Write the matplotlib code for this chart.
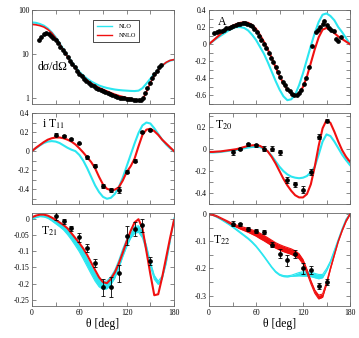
import numpy as np
import matplotlib
matplotlib.use("Agg")
from matplotlib import pyplot as plt
from matplotlib.ticker import MultipleLocator, FixedLocator, FuncFormatter, NullLocator

plt.rcParams["font.family"] = ["Liberation Serif", "DejaVu Serif"]
plt.rcParams["mathtext.fontset"] = "stix"

CYAN = "#2be6f0"
RED = "#f01010"

# angle grid for the theory curves (deg)
th = np.arange(0, 181, 5)

# ---- d sigma / d Omega ----
xs_nlo = [52, 51, 48, 44, 38, 31, 24, 17.5, 12.5, 9, 6.6, 5.0, 3.9, 3.2, 2.7, 2.35, 2.1, 1.9, 1.77,
          1.67, 1.6, 1.54, 1.5, 1.47, 1.45, 1.43, 1.42, 1.45, 1.65, 2.1, 2.7, 3.5, 4.4, 5.4, 6.3, 7.0, 7.3]
xs_nnlo = [47, 46, 44, 41, 36, 30, 23, 17, 12, 8.6, 6.2, 4.7, 3.7, 3.0, 2.5, 2.15, 1.9, 1.7, 1.55,
           1.42, 1.3, 1.2, 1.12, 1.06, 1.0, 0.95, 0.9, 0.86, 0.9, 1.35, 2.2, 3.2, 4.3, 5.4, 6.4, 7.1, 7.4]
xs_th = [9, 12, 15, 18, 21, 24, 27, 30, 33, 36, 39, 42, 45, 48, 51, 54, 57, 60, 63, 66, 69, 72, 75,
         78, 81, 84, 87, 90, 93, 96, 99, 102, 105, 108, 111, 114, 117, 120, 123, 126, 129, 132, 135,
         138, 141, 143, 146, 149, 152, 155, 158, 161, 164]
xs_dat = [21, 24, 28, 30, 28.5, 26, 23, 20.5, 17.5, 14.5, 12.3, 10.2, 8.5, 7.0, 5.8, 4.9, 4.1, 3.5,
          3.05, 2.7, 2.42, 2.2, 2.0, 1.85, 1.7, 1.57, 1.47, 1.4, 1.32, 1.26, 1.2, 1.14, 1.09, 1.04,
          1.01, 0.99, 0.97, 0.95, 0.93, 0.92, 0.9, 0.88, 0.87, 0.89, 0.98, 1.25, 1.7, 2.2, 2.8, 3.4,
          4.1, 4.9, 5.6]

# ---- A ----
a_nlo = [0.0, 0.035, 0.07, 0.1, 0.13, 0.16, 0.185, 0.2, 0.2, 0.19, 0.16, 0.11, 0.05, -0.03, -0.11,
         -0.21, -0.32, -0.43, -0.53, -0.61, -0.655, -0.645, -0.59, -0.48, -0.34, -0.18, -0.02, 0.13,
         0.26, 0.345, 0.36, 0.33, 0.28, 0.2, 0.14, 0.07, 0.0]
a_nnlo = [0.0, 0.04, 0.08, 0.12, 0.16, 0.19, 0.215, 0.235, 0.25, 0.255, 0.25, 0.225, 0.18, 0.11, 0.03,
          -0.06, -0.16, -0.27, -0.37, -0.46, -0.53, -0.58, -0.6, -0.58, -0.5, -0.38, -0.22, -0.06,
          0.08, 0.17, 0.19, 0.17, 0.13, 0.09, 0.06, 0.03, 0.0]
a_th = [7, 10, 13, 16, 19, 22, 25, 28, 31, 34, 37, 40, 43, 46, 49, 52, 55, 58, 61, 64, 67, 70, 73,
        76, 79, 82, 85, 88, 91, 94, 97, 100, 103, 106, 109, 112, 115, 118, 121, 124, 128, 132, 136,
        139, 142, 145, 147, 150, 153, 156, 159, 162, 165, 168]
a_dat = [0.13, 0.14, 0.15, 0.16, 0.17, 0.185, 0.195, 0.205, 0.215, 0.225, 0.235, 0.24, 0.245, 0.245,
         0.24, 0.23, 0.21, 0.18, 0.14, 0.1, 0.05, 0.0, -0.05, -0.1, -0.16, -0.21, -0.27, -0.32, -0.38,
         -0.44, -0.48, -0.52, -0.55, -0.58, -0.6, -0.6, -0.57, -0.54, -0.47, -0.4, -0.27, -0.02, 0.14,
         0.17, 0.2, 0.24, 0.27, 0.22, 0.19, 0.17, 0.15, 0.06, 0.04, 0.08]

# ---- iT11 ----
t11_nlo = [0, 0.03, 0.06, 0.085, 0.1, 0.105, 0.1, 0.085, 0.06, 0.035, 0.015, 0.0, -0.04, -0.1, -0.18,
           -0.27, -0.36, -0.43, -0.48, -0.5, -0.49, -0.45, -0.38, -0.28, -0.16, -0.04, 0.08, 0.19,
           0.27, 0.3, 0.29, 0.24, 0.18, 0.12, 0.07, 0.03, 0.0]
t11_nnlo = [0, 0.035, 0.065, 0.095, 0.12, 0.135, 0.143, 0.143, 0.135, 0.12, 0.1, 0.07, 0.03, -0.015,
            -0.065, -0.115, -0.18, -0.27, -0.35, -0.395, -0.41, -0.405, -0.38, -0.31, -0.22, -0.16,
            -0.08, 0.05, 0.17, 0.225, 0.235, 0.21, 0.17, 0.12, 0.08, 0.04, 0.0]
obs_th = [30, 40, 50, 60, 70, 80, 90, 100, 110, 120, 130, 140, 150]
t11_dat = [0.17, 0.155, 0.125, 0.08, -0.065, -0.155, -0.37, -0.405, -0.41, -0.215, -0.1, 0.2, 0.22]
t11_err = [0.015, 0.01, 0.01, 0.01, 0.015, 0.015, 0.02, 0.02, 0.03, 0.015, 0.015, 0.012, 0.012]

# ---- T20 ----
t20_nlo = [-0.03, -0.03, -0.028, -0.025, -0.02, -0.015, -0.01, -0.005, 0.0, 0.008, 0.015, 0.02, 0.022,
           0.018, 0.005, -0.02, -0.06, -0.11, -0.16, -0.2, -0.23, -0.25, -0.26, -0.265, -0.26, -0.245,
           -0.21, -0.16, -0.05, 0.07, 0.135, 0.12, 0.07, 0.01, -0.05, -0.1, -0.145]
t20_nnlo = [-0.025, -0.025, -0.022, -0.02, -0.015, -0.01, -0.005, 0.0, 0.01, 0.02, 0.03, 0.035, 0.037,
            0.03, 0.01, -0.02, -0.07, -0.13, -0.2, -0.27, -0.33, -0.38, -0.42, -0.44, -0.44, -0.41,
            -0.32, -0.16, 0.03, 0.19, 0.265, 0.24, 0.16, 0.07, -0.01, -0.07, -0.115]
t20_dat = [-0.03, 0.0, 0.045, 0.035, 0.005, 0.005, -0.03, -0.28, -0.32, -0.37, -0.21, 0.115, 0.26]
t20_err = [0.025, 0.01, 0.012, 0.015, 0.02, 0.02, 0.02, 0.03, 0.025, 0.03, 0.025, 0.02, 0.015]

# ---- T21 ----
t21_nlo = [0.0, 0.005, 0.008, 0.008, 0.005, -0.002, -0.01, -0.018, -0.027, -0.04, -0.055, -0.072,
           -0.09, -0.112, -0.135, -0.158, -0.18, -0.197, -0.205, -0.203, -0.19, -0.17, -0.14, -0.105,
           -0.075, -0.05, -0.035, -0.032, -0.05, -0.09, -0.14, -0.18, -0.197, -0.18, -0.135, -0.07, 0.0]
t21_nlo_w = [0.002, 0.002, 0.002, 0.003, 0.004, 0.005, 0.006, 0.007, 0.008, 0.009, 0.01, 0.011, 0.012,
             0.012, 0.012, 0.012, 0.012, 0.012, 0.012, 0.012, 0.012, 0.012, 0.012, 0.012, 0.011, 0.01,
             0.01, 0.01, 0.009, 0.008, 0.007, 0.006, 0.005, 0.004, 0.003, 0.002, 0.002]
t21_nnlo = [0.004, 0.009, 0.012, 0.012, 0.009, 0.003, -0.004, -0.012, -0.02, -0.03, -0.045, -0.06,
            -0.075, -0.092, -0.112, -0.135, -0.158, -0.18, -0.195, -0.198, -0.185, -0.165, -0.138,
            -0.105, -0.07, -0.038, -0.012, -0.002, -0.03, -0.1, -0.17, -0.235, -0.232, -0.18, -0.12,
            -0.06, -0.005]
t21_dat = [0.008, -0.008, -0.03, -0.058, -0.09, -0.137, -0.211, -0.209, -0.168, -0.052, -0.032, -0.02, -0.13]
t21_err = [0.012, 0.008, 0.008, 0.015, 0.012, 0.013, 0.025, 0.03, 0.025, 0.03, 0.02, 0.02, 0.013]

# ---- T22 ----
t22_nlo = [0.0, -0.003, -0.01, -0.018, -0.027, -0.036, -0.046, -0.057, -0.068, -0.079, -0.09, -0.103,
           -0.118, -0.136, -0.155, -0.175, -0.195, -0.212, -0.223, -0.228, -0.229, -0.227, -0.224,
           -0.221, -0.22, -0.22, -0.222, -0.226, -0.23, -0.228, -0.205, -0.175, -0.135, -0.095, -0.055,
           -0.02, 0.0]
t22_nlo_w = [0.002] * 22 + [0.004, 0.006, 0.008, 0.008, 0.008, 0.008, 0.008, 0.006, 0.004] + [0.002] * 6
t22_nnlo = [0.0, -0.003, -0.008, -0.015, -0.022, -0.03, -0.038, -0.044, -0.05, -0.055, -0.06, -0.066,
            -0.072, -0.08, -0.088, -0.097, -0.106, -0.115, -0.122, -0.128, -0.133, -0.138, -0.145,
            -0.155, -0.175, -0.21, -0.25, -0.285, -0.305, -0.3, -0.255, -0.2, -0.15, -0.1, -0.06,
            -0.025, 0.0]
t22_nnlo_w = [0.002, 0.002, 0.002, 0.002, 0.002, 0.003, 0.003, 0.004, 0.005, 0.006, 0.007, 0.008,
              0.009, 0.01, 0.01, 0.01, 0.01, 0.01, 0.01, 0.01, 0.01, 0.01, 0.01, 0.009, 0.008, 0.007,
              0.006, 0.006, 0.007, 0.006, 0.004, 0.003, 0.002, 0.002, 0.002, 0.002, 0.002]
t22_dat = [-0.035, -0.038, -0.055, -0.062, -0.066, -0.112, -0.145, -0.17, -0.147, -0.2, -0.205, -0.265, -0.25]
t22_err = [0.01, 0.006, 0.006, 0.008, 0.008, 0.01, 0.018, 0.02, 0.015, 0.02, 0.015, 0.012, 0.012]


W, H = 359, 338
fig = plt.figure(figsize=(W / 100, H / 100), dpi=100)


def box(x0, x1, y0, y1):
    return [x0 / W, 1 - y1 / H, (x1 - x0) / W, (y1 - y0) / H]


cols = [(32, 174), (209, 350)]
rows = [(10, 104), (113, 204), (213, 306)]
fmt = FuncFormatter(lambda v, p: f"{v:g}" if abs(v) > 1e-9 else "0")


def setup(ax, bottom):
    ax.set_xlim(0, 180)
    ax.xaxis.set_major_locator(MultipleLocator(60))
    ax.xaxis.set_minor_locator(MultipleLocator(30))
    ax.tick_params(which="both", direction="in", top=True, right=True, labelsize=5.5,
                   width=0.5, color="0.35", pad=2, length=3)
    for s in ax.spines.values():
        s.set_linewidth(0.6)
        s.set_color("0.4")
    if bottom:
        ax.xaxis.set_major_formatter(FuncFormatter(lambda v, p: f"{v:g}"))
        ax.set_xlabel("θ [deg]", fontsize=8.5, labelpad=1)
    else:
        ax.set_xticklabels([])


def curves(ax, y_nlo, y_nnlo, w_nlo=None, w_nnlo=None):
    for y, w, c in ((y_nlo, w_nlo, CYAN), (y_nnlo, w_nnlo, RED)):
        y = np.asarray(y)
        if w is not None:
            w = np.asarray(w)
            ax.fill_between(th, y - w, y + w, color=c, lw=0)
            ax.plot(th, y - w, color=c, lw=0.8)
            ax.plot(th, y + w, color=c, lw=0.8)
        else:
            ax.plot(th, y, color=c, lw=1.5)


def obs(ax, y, e):
    ax.errorbar(obs_th, y, yerr=e, fmt="o", color="black", ms=2.4, lw=0.6,
                capsize=1.5, capthick=0.6, zorder=5)


# top-left: cross section
ax = fig.add_axes(box(*cols[0], *rows[0]))
setup(ax, False)
ax.set_yscale("log")
ax.plot(th, xs_nlo, color=CYAN, lw=1.5, label="NLO")
ax.plot(th, xs_nnlo, color=RED, lw=1.2, label="NNLO")
ax.plot(xs_th, xs_dat, "o", color="black", ms=2.4, zorder=5)
ax.set_ylim(0.72, 100)
ax.yaxis.set_major_locator(FixedLocator([1, 10, 100]))
ax.yaxis.set_major_formatter(FuncFormatter(lambda v, p: f"{v:g}"))
ax.yaxis.set_minor_locator(NullLocator())
ax.text(0.04, 0.39, "dσ/dΩ", transform=ax.transAxes, fontsize=8.5, va="center")
leg = ax.legend(loc="upper left", bbox_to_anchor=(0.41, 0.93), fontsize=4.5, handlelength=2.4,
                borderpad=0.6, labelspacing=0.6, handletextpad=1.0, fancybox=False, framealpha=1)
leg.get_frame().set_edgecolor("black")
leg.get_frame().set_linewidth(0.5)
for line in leg.get_lines():
    line.set_linewidth(1.0)

# top-right: A
ax = fig.add_axes(box(*cols[1], *rows[0]))
setup(ax, False)
curves(ax, a_nlo, a_nnlo)
ax.plot(a_th, a_dat, "o", color="black", ms=2.4, zorder=5)
ax.set_ylim(-0.7, 0.4)
ax.yaxis.set_major_locator(MultipleLocator(0.2))
ax.yaxis.set_minor_locator(MultipleLocator(0.1))
ax.yaxis.set_major_formatter(fmt)
ax.text(0.06, 0.87, "A", transform=ax.transAxes, fontsize=8.5, va="center")

# middle-left: iT11
ax = fig.add_axes(box(*cols[0], *rows[1]))
setup(ax, False)
curves(ax, t11_nlo, t11_nnlo)
obs(ax, t11_dat, t11_err)
ax.set_ylim(-0.555, 0.4)
ax.yaxis.set_major_locator(MultipleLocator(0.2))
ax.yaxis.set_minor_locator(MultipleLocator(0.1))
ax.yaxis.set_major_formatter(fmt)
ax.text(0.07, 0.88, "i T$_{11}$", transform=ax.transAxes, fontsize=8.5, va="center")

# middle-right: T20
ax = fig.add_axes(box(*cols[1], *rows[1]))
setup(ax, False)
curves(ax, t20_nlo, t20_nnlo)
obs(ax, t20_dat, t20_err)
ax.set_ylim(-0.5, 0.33)
ax.yaxis.set_major_locator(MultipleLocator(0.2))
ax.yaxis.set_minor_locator(MultipleLocator(0.1))
ax.yaxis.set_major_formatter(fmt)
ax.text(0.04, 0.87, "T$_{20}$", transform=ax.transAxes, fontsize=8.5, va="center")

# bottom-left: T21
ax = fig.add_axes(box(*cols[0], *rows[2]))
setup(ax, True)
curves(ax, t21_nlo, t21_nnlo, w_nlo=t21_nlo_w)
obs(ax, t21_dat, t21_err)
ax.set_ylim(-0.268, 0.017)
ax.yaxis.set_major_locator(MultipleLocator(0.05))
ax.yaxis.set_minor_locator(NullLocator())
ax.yaxis.set_major_formatter(fmt)
ax.text(0.06, 0.8, "T$_{21}$", transform=ax.transAxes, fontsize=8.5, va="center")

# bottom-right: T22
ax = fig.add_axes(box(*cols[1], *rows[2]))
setup(ax, True)
curves(ax, t22_nlo, t22_nnlo, w_nlo=t22_nlo_w, w_nnlo=t22_nnlo_w)
obs(ax, t22_dat, t22_err)
ax.set_ylim(-0.338, 0.004)
ax.yaxis.set_major_locator(MultipleLocator(0.1))
ax.yaxis.set_minor_locator(MultipleLocator(0.05))
ax.yaxis.set_major_formatter(fmt)
ax.text(0.03, 0.71, "T$_{22}$", transform=ax.transAxes, fontsize=8.5, va="center")

fig.savefig("out.png", dpi=100)
